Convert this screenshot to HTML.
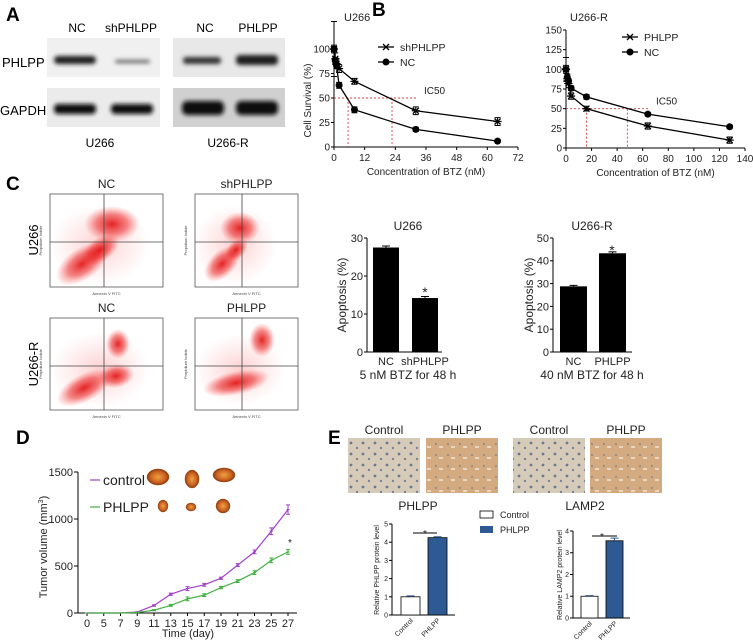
<!DOCTYPE html>
<html><head><meta charset="utf-8"><style>
html,body{margin:0;padding:0;background:#fff;}
svg{display:block;font-family:"Liberation Sans",Arial,sans-serif;}
</style></head><body>
<svg id="fig" width="753" height="643" viewBox="0 0 753 643" xmlns="http://www.w3.org/2000/svg">
<defs>
<filter id="blur1" x="-20%" y="-50%" width="140%" height="200%"><feGaussianBlur stdDeviation="2"/></filter>
<radialGradient id="cloud"><stop offset="0" stop-color="#e00000" stop-opacity="0.85"/><stop offset="0.55" stop-color="#e81010" stop-opacity="0.5"/><stop offset="1" stop-color="#ff4040" stop-opacity="0"/></radialGradient>
<radialGradient id="halo"><stop offset="0" stop-color="#f04040" stop-opacity="0.25"/><stop offset="1" stop-color="#ff6060" stop-opacity="0"/></radialGradient>
<radialGradient id="tumor"><stop offset="0" stop-color="#f0a040"/><stop offset="0.7" stop-color="#c86020"/><stop offset="1" stop-color="#8a3a10"/></radialGradient>
<pattern id="ihcA" width="12" height="11" patternUnits="userSpaceOnUse"><rect width="12" height="11" fill="#d6cbb8"/><circle cx="3" cy="3" r="1.4" fill="#6a7890"/><circle cx="9" cy="8" r="1.2" fill="#7a8498"/></pattern>
<pattern id="ihcB" width="12" height="11" patternUnits="userSpaceOnUse"><rect width="12" height="11" fill="#d4ab80"/><circle cx="4" cy="4" r="1.1" fill="#9a8a8a"/><rect x="7" y="6" width="4" height="2" fill="#e8d6c0"/></pattern>
</defs>
<g id="panelA">
<text x="6" y="21" font-size="19" font-weight="bold">A</text>
<text x="77" y="32" font-size="12" text-anchor="middle">NC</text>
<text x="131" y="32" font-size="12" text-anchor="middle">shPHLPP</text>
<text x="205" y="32" font-size="12" text-anchor="middle">NC</text>
<text x="258" y="32" font-size="12" text-anchor="middle">PHLPP</text>
<text x="2" y="67" font-size="13">PHLPP</text>
<text x="0" y="115" font-size="13">GAPDH</text>
<rect x="47" y="38" width="113" height="39" fill="#f0f0f0"/>
<rect x="47" y="88" width="113" height="39" fill="#ebebeb"/>
<rect x="173" y="38" width="112" height="39" fill="#e8e8e8"/>
<rect x="173" y="88" width="112" height="39" fill="#d0d0d0"/>
<g filter="url(#blur1)">
<rect x="54" y="56" width="42" height="8" rx="4" fill="#1a1a1a"/>
<rect x="115" y="60" width="35" height="3" rx="2" fill="#555"/>
<rect x="54" y="104" width="42" height="10" rx="4" fill="#111"/>
<rect x="111" y="104" width="42" height="10" rx="4" fill="#111"/>
<rect x="183" y="57" width="38" height="7" rx="3" fill="#333"/>
<rect x="236" y="55" width="42" height="10" rx="4" fill="#1a1a1a"/>
<rect x="182" y="101" width="42" height="14" rx="5" fill="#111"/>
<rect x="236" y="101" width="42" height="14" rx="5" fill="#111"/>
</g>
<text x="100" y="147" font-size="12" text-anchor="middle">U266</text>
<text x="228" y="147" font-size="12" text-anchor="middle">U266-R</text>
</g>
<text x="372" y="16" font-size="19" font-weight="bold">B</text>
<text x="6" y="190" font-size="19" font-weight="bold">C</text>
<text x="16" y="444" font-size="19" font-weight="bold">D</text>
<text x="328" y="444" font-size="19" font-weight="bold">E</text>
</svg>
<script>
// ---------- data ----------
const bLeftX=[0,0.5,1,2,8,32,64];
const bLeftSh=[100,90,85,80,67,37,26];
const bLeftShErr=[28,6,5,4,3,4,4];
const bLeftNC=[100,88,83,63,38,18,6];
const bLeftNCErr=[4,3,3,3,3,2,1];
const bLeftXTicks=[0,12,24,36,48,60,72];
const bLeftYTicks=[0,25,50,75,100];
const bLeftIC50=[5.5,22.7];

const bRightX=[0,1,2,4,16,64,128];
const bRightPh=[100,88,82,66,50,28,10];
const bRightPhErr=[15,6,5,4,3,4,4];
const bRightNC=[100,90,85,76,65,43,27];
const bRightNCErr=[5,4,3,3,3,2,2];
const bRightXTicks=[0,20,40,60,80,100,120,140];
const bRightYTicks=[0,25,50,75,100,125,150];
const bRightIC50=[16,48];

const cU266Labels=['NC','shPHLPP'];
const cU266Vals=[27.5,14.2];
const cU266Err=[0.4,0.4];
const cU266Ticks=[0,10,20,30];
const cU266RLabels=['NC','PHLPP'];
const cU266RVals=[28.8,43.3];
const cU266RErr=[0.4,0.6];
const cU266RTicks=[0,10,20,30,40,50];

const dDays=['0','5','7','9','11','13','15','17','19','21','23','25','27'];
const dControl=[0,0,0,10,80,200,260,300,370,510,650,870,1100];
const dControlErr=[0,0,0,5,8,12,20,15,12,15,20,35,50];
const dPhlpp=[0,0,0,5,30,80,150,190,270,340,430,560,650];
const dPhlppErr=[0,0,0,3,6,10,20,15,12,15,20,25,25];
const dYTicks=[0,500,1000,1500];

const eLabels=['Control','PHLPP'];
const ePhlppVals=[1.0,4.25];
const ePhlppErr=[0.05,0.05];
const ePhlppTicks=[0,1,2,3,4,5];
const eLampVals=[1.0,3.55];
const eLampErr=[0.03,0.12];
const eLampTicks=[0,1,2,3,4];

// ---------- helpers ----------
const NS="http://www.w3.org/2000/svg";
const svg=document.getElementById('fig');
function el(tag,attrs,parent){const e=document.createElementNS(NS,tag);for(const k in attrs)e.setAttribute(k,attrs[k]);(parent||svg).appendChild(e);return e;}
function txt(x,y,s,attrs,parent){const t=el('text',Object.assign({x:x,y:y},attrs||{}),parent);t.textContent=s;return t;}
function grp(name){const g=el('g',{});


return g;}

// ---------- panel B line charts ----------
function drawSurvival(name,o){
  const g=grp(name);
  const sx=v=>o.x0+(v-o.xmin)*(o.x1-o.x0)/(o.xmax-o.xmin);
  const sy=v=>o.y0-(v)*(o.y0-o.y1)/o.ymax;
  const ax=el('path',{d:`M${o.x0} ${o.ytop} V${o.y0} H${o.x1}`,stroke:'#000','stroke-width':1,fill:'none'},g);
  
  
  o.yTicks.forEach(t=>{
    el('line',{x1:o.x0-3,x2:o.x0,y1:sy(t),y2:sy(t),stroke:'#000'},g);
    const l=txt(o.x0-4,sy(t)+3.5,String(t),{'font-size':10,'text-anchor':'end',fill:'#222'},g);
    
    
  });
  o.xTicks.forEach(t=>{
    el('line',{x1:sx(t),x2:sx(t),y1:o.y0,y2:o.y0+3,stroke:'#000'},g);
    const l=txt(sx(t),o.y0+14,String(t),{'font-size':10,'text-anchor':'middle',fill:'#222'},g);
    
    
  });
  const h=el('line',{x1:o.x0,x2:o.icEnd,y1:sy(50),y2:sy(50),stroke:'#d04040','stroke-width':0.9,'stroke-dasharray':'2,2'},g);
  
  
  o.ic.forEach(v=>{
    const vl=el('line',{x1:sx(v),x2:sx(v),y1:sy(50),y2:o.y0,stroke:'#d04040','stroke-width':0.9,'stroke-dasharray':'2,2'},g);
    
    
  });
  const icl=txt(o.icLabelX,sy(50)-4,'IC50',{'font-size':10,fill:'#222'},g);
  
  
  o.series.forEach(s=>{
    const p=el('polyline',{points:o.xs.map((v,i)=>sx(v)+','+sy(s.vals[i])).join(' '),fill:'none',stroke:'#000','stroke-width':1.3},g);
    
    
    o.xs.forEach((v,i)=>{
      const X=sx(v),Y=sy(s.vals[i]),e=s.err[i]*(o.y0-o.y1)/o.ymax;
      el('path',{d:`M${X} ${Y-e}V${Y+e}M${X-3} ${Y-e}H${X+3}M${X-3} ${Y+e}H${X+3}`,stroke:'#000','stroke-width':1},g);
      let m;
      if(s.marker==='circle'){m=el('circle',{cx:X,cy:Y,r:3.5,fill:'#000'},g);}
      else{m=el('path',{d:`M${X-3} ${Y-3}L${X+3} ${Y+3}M${X-3} ${Y+3}L${X+3} ${Y-3}M${X-4} ${Y}H${X+4}`,stroke:'#000','stroke-width':1.3},g);}
      
      
    });
    const ly=s.legY;
    el('line',{x1:o.legX-8,x2:o.legX+8,y1:ly,y2:ly,stroke:'#000','stroke-width':1.3},g);
    if(s.marker==='circle')el('circle',{cx:o.legX,cy:ly,r:3.5,fill:'#000'},g);
    else el('path',{d:`M${o.legX-3} ${ly-3}L${o.legX+3} ${ly+3}M${o.legX-3} ${ly+3}L${o.legX+3} ${ly-3}`,stroke:'#000','stroke-width':1.3},g);
    const lt=txt(o.legX+14,ly+4,s.label,{'font-size':10.5,fill:'#222'},g);
    
    
  });
  const t=txt(o.titleX,21,o.title,{'font-size':11,fill:'#222'},g);
  
  
  const xt=txt((o.x0+o.x1)/2,o.y0+28,'Concentration of BTZ (nM)',{'font-size':10,'text-anchor':'middle',fill:'#222'},g);
  
  
  if(o.ylabel){
    const yt=txt(0,0,o.ylabel,{'font-size':10,'text-anchor':'middle',fill:'#222',transform:`translate(${o.x0-23},${(o.y0+o.ytop)/2+15}) rotate(-90)`},g);
    
    
  }
}
drawSurvival('chart-b-u266',{x0:334,x1:518,xmin:0,xmax:72,y0:147,y1:49,ymax:100,ytop:24,xs:bLeftX,xTicks:bLeftXTicks,yTicks:bLeftYTicks,ic:bLeftIC50,icEnd:416,icLabelX:424,legX:386,title:'U266',titleX:344,ylabel:'Cell Survival (%)',
 series:[{name:'shphlpp',label:'shPHLPP',vals:bLeftSh,err:bLeftShErr,marker:'x',legY:47},{name:'nc',label:'NC',vals:bLeftNC,err:bLeftNCErr,marker:'circle',legY:62}]});
drawSurvival('chart-b-u266r',{x0:566,x1:745,xmin:0,xmax:140,y0:148,y1:30,ymax:150,ytop:30,xs:bRightX,xTicks:bRightXTicks,yTicks:bRightYTicks,ic:bRightIC50,icEnd:650,icLabelX:656,legX:630,title:'U266-R',titleX:570,ylabel:null,
 series:[{name:'phlpp',label:'PHLPP',vals:bRightPh,err:bRightPhErr,marker:'x',legY:37},{name:'nc',label:'NC',vals:bRightNC,err:bRightNCErr,marker:'circle',legY:52}]});

// ---------- panel C flow plots ----------
const flowBoxes=[
 {name:'flow-u266-nc',x:50,y:194,w:113,h:93,qx:104,qy:242,title:'NC',halo:[100,245,50,40],clouds:[[82,264,30,16,-35],[112,224,28,18,0],[100,250,22,12,-35]]},
 {name:'flow-u266-shphlpp',x:195,y:194,w:103,h:93,qx:242,qy:242,title:'shPHLPP',halo:[235,245,42,40],clouds:[[222,264,22,13,-45],[240,228,20,16,0],[236,250,14,9,-45]]},
 {name:'flow-u266r-nc',x:50,y:318,w:113,h:92,qx:104,qy:366,title:'NC',halo:[100,370,50,38],clouds:[[84,388,30,14,-28],[118,344,12,15,0],[116,376,18,12,-10]]},
 {name:'flow-u266r-phlpp',x:195,y:318,w:103,h:92,qx:242,qy:366,title:'PHLPP',halo:[240,370,45,36],clouds:[[236,383,34,12,-12],[262,340,13,17,0]]}
];
flowBoxes.forEach(b=>{
  const g=grp(b.name);
  const r=el('rect',{x:b.x,y:b.y,width:b.w,height:b.h,fill:'#fff',stroke:'#555','stroke-width':0.8},g);
  
  
  const hl=el('ellipse',{cx:b.halo[0],cy:b.halo[1],rx:b.halo[2],ry:b.halo[3],fill:'url(#halo)'},g);
  
  
  b.clouds.forEach(c=>{
    const e=el('ellipse',{cx:0,cy:0,rx:c[2],ry:c[3],fill:'url(#cloud)',transform:`translate(${c[0]},${c[1]}) rotate(${c[4]})`},g);
    
    
  });
  el('line',{x1:b.qx,x2:b.qx,y1:b.y,y2:b.y+b.h,stroke:'#444','stroke-width':0.8},g);
  el('line',{x1:b.x,x2:b.x+b.w,y1:b.qy,y2:b.qy,stroke:'#444','stroke-width':0.8},g);
  const t=txt(b.x+b.w/2,b.y-6,b.title,{'font-size':12,'text-anchor':'middle',fill:'#222'},g);
  
  
  const xl=txt(b.x+b.w/2,b.y+b.h+8,'Annexin V FITC',{'font-size':4,'text-anchor':'middle',fill:'#444'},g);
  
  
  const yl=txt(0,0,'Propidium Iodide',{'font-size':4,'text-anchor':'middle',fill:'#444',transform:`translate(${b.x-8},${b.y+b.h/2}) rotate(-90)`},g);
  
  
});
const rl1=txt(0,0,'U266',{'font-size':13,'text-anchor':'middle',transform:'translate(38,240) rotate(-90)'});


const rl2=txt(0,0,'U266-R',{'font-size':13,'text-anchor':'middle',transform:'translate(38,364) rotate(-90)'});



// ---------- bar charts ----------
function drawBars(name,o){
  const g=grp(name);
  const sy=v=>o.y0-v*(o.y0-o.y1)/o.ymax;
  el('path',{d:`M${o.x0} ${o.y1} V${o.y0} H${o.xEnd}`,stroke:'#000','stroke-width':1,fill:'none'},g);
  o.ticks.forEach(t=>{
    el('line',{x1:o.x0-3,x2:o.x0,y1:sy(t),y2:sy(t),stroke:'#000'},g);
    const l=txt(o.x0-4,sy(t)+o.fs*0.35,String(t),{'font-size':o.fs,'text-anchor':'end',fill:'#222'},g);
    
    
  });
  o.vals.forEach((v,i)=>{
    const bx=o.bx[i];
    const r=el('rect',{x:bx,y:sy(v),width:o.bw,height:o.y0-sy(v),fill:o.fills[i],stroke:'#000','stroke-width':o.sw},g);
    
    
    const cx=bx+o.bw/2,ey=sy(v+o.err[i]);
    el('path',{d:`M${cx} ${sy(v)}V${ey}M${cx-4} ${ey}H${cx+4}`,stroke:o.errColor||'#000','stroke-width':1},g);
    let l;
    if(o.rot){l=txt(0,0,o.labels[i],{'font-size':o.fs,'text-anchor':'end',fill:'#222',transform:`translate(${cx+3},${o.y0+6}) rotate(-45)`},g);}
    else{l=txt(cx,o.y0+13,o.labels[i],{'font-size':o.fs,'text-anchor':'middle',fill:'#222'},g);}
    
    
  });
  if(o.star){
    const st=txt(o.star[0],o.star[1],'*',{'font-size':o.starFs||14,'text-anchor':'middle',fill:'#222'},g);
    
    
  }
  if(o.sig){
    const sl=el('line',{x1:o.sig[0],x2:o.sig[1],y1:o.sig[2],y2:o.sig[2],stroke:'#000','stroke-width':1},g);
    
    
  }
  const t=txt(o.titleX,o.titleY,o.title,{'font-size':o.tfs,'text-anchor':'middle',fill:'#222'},g);
  
  
  const yt=txt(0,0,o.ylabel,{'font-size':o.yfs,'text-anchor':'middle',fill:'#222',transform:`translate(${o.ylx},${o.yly}) rotate(-90)`},g);
  
  
  if(o.caption){
    const c=txt(o.titleX,o.y0+27,o.caption,{'font-size':12,'text-anchor':'middle',fill:'#222'},g);
    
    
  }
}
drawBars('chart-c-u266',{x0:367,xEnd:442,y0:352,y1:238,ymax:30,ticks:cU266Ticks,vals:cU266Vals,err:cU266Err,labels:cU266Labels,bx:[373,412],bw:26,fills:['#000','#000'],sw:0,fs:11,star:[425,297],title:'U266',titleX:408,titleY:230,tfs:12,ylabel:'Apoptosis (%)',yfs:12,ylx:346,yly:295,caption:'5 nM BTZ for 48 h'});
drawBars('chart-c-u266r',{x0:553,xEnd:632,y0:352,y1:238,ymax:50,ticks:cU266RTicks,vals:cU266RVals,err:cU266RErr,labels:cU266RLabels,bx:[560,599],bw:27,fills:['#000','#000'],sw:0,fs:11,star:[612,255],title:'U266-R',titleX:592,titleY:230,tfs:12,ylabel:'Apoptosis (%)',yfs:12,ylx:533,yly:295,caption:'40 nM BTZ for 48 h'});
drawBars('chart-e-phlpp',{x0:392,xEnd:455,y0:615,y1:524,ymax:5,ticks:ePhlppTicks,vals:ePhlppVals,err:ePhlppErr,labels:eLabels,bx:[401,428],bw:19,fills:['#fff','#2e5a93'],sw:0.8,fs:7,rot:true,star:[425,537],starFs:10,sig:[413,437,533],title:'PHLPP',titleX:418,titleY:510,tfs:12,ylabel:'Relative PHLPP protein level',yfs:7,ylx:379,yly:570,errColor:'#2e5a93'});
drawBars('chart-e-lamp2',{x0:573,xEnd:630,y0:618,y1:531,ymax:4,ticks:eLampTicks,vals:eLampVals,err:eLampErr,labels:eLabels,bx:[581,606],bw:17,fills:['#fff','#2e5a93'],sw:0.8,fs:7,rot:true,star:[602,540],starFs:10,sig:[592,617,536],title:'LAMP2',titleX:585,titleY:510,tfs:12,ylabel:'Relative LAMP2 protein level',yfs:7,ylx:562,yly:575,errColor:'#2e5a93'});

(function(){
  const g=grp('legend-e');
  const r1=el('rect',{x:480,y:511,width:13,height:7,fill:'#fff',stroke:'#000','stroke-width':0.8},g);
  
  
  const t1=txt(500,518,'Control',{'font-size':9,fill:'#222'},g);
  
  
  const r2=el('rect',{x:480,y:526,width:13,height:7,fill:'#2e5a93'},g);
  
  
  const t2=txt(500,533,'PHLPP',{'font-size':9,fill:'#222'},g);
  
  
})();

[[348,'url(#ihcA)','Control'],[426,'url(#ihcB)','PHLPP'],[513,'url(#ihcA)','Control'],[590,'url(#ihcB)','PHLPP']].forEach((d,i)=>{
  const r=el('rect',{x:d[0],y:438,width:72,height:55,fill:d[1]});
  
  
  const t=txt(d[0]+36,434,d[2],{'font-size':12,'text-anchor':'middle',fill:'#222'});
  
  
});

// ---------- panel D line chart ----------
(function(){
  const g=grp('chart-d-tumor-volume');
  const x0=78,xEnd=297,y0=613,y1=472,ymax=1500;
  const sx=i=>87+i*(288-87)/(dDays.length-1);
  const sy=v=>y0-v*(y0-y1)/ymax;
  el('path',{d:`M${x0} ${y1} V${y0} H${xEnd}`,stroke:'#000','stroke-width':1,fill:'none'},g);
  dYTicks.forEach(t=>{
    el('line',{x1:x0-4,x2:x0,y1:sy(t),y2:sy(t),stroke:'#000'},g);
    const l=txt(x0-5,sy(t)+4,String(t),{'font-size':11,'text-anchor':'end',fill:'#222'},g);
    
    
  });
  dDays.forEach((d,i)=>{
    el('line',{x1:sx(i),x2:sx(i),y1:y0,y2:y0+3,stroke:'#000'},g);
    const l=txt(sx(i),y0+14,d,{'font-size':11,'text-anchor':'middle',fill:'#222'},g);
    
    
  });
  [['control',dControl,dControlErr,'#a040c8'],['phlpp',dPhlpp,dPhlppErr,'#40b040']].forEach(s=>{
    const p=el('polyline',{points:s[1].map((v,i)=>sx(i)+','+sy(v)).join(' '),fill:'none',stroke:s[3],'stroke-width':1.2},g);
    
    
    s[1].forEach((v,i)=>{
      const X=sx(i),Y=sy(v),e=s[2][i]*(y0-y1)/ymax;
      const m=el('path',{d:`M${X} ${Y-e}V${Y+e}M${X-2} ${Y-e}H${X+2}M${X-2} ${Y+e}H${X+2}M${X-1.5} ${Y}H${X+1.5}`,stroke:s[3],'stroke-width':1},g);
      
      
    });
  });
  const st=txt(290,546,'*',{'font-size':10,'text-anchor':'middle',fill:'#222'},g);
  
  
  el('line',{x1:90,x2:100,y1:480,y2:480,stroke:'#a040c8','stroke-width':1.2},g);
  const l1=txt(103,485,'control',{'font-size':14,fill:'#222'},g);
  
  
  el('line',{x1:90,x2:100,y1:507,y2:507,stroke:'#40b040','stroke-width':1.2},g);
  const l2=txt(103,512,'PHLPP',{'font-size':14,fill:'#222'},g);
  
  
  [[158,477,11,8],[192,479,7,9],[224,475,11,7],[163,506,5,6],[191,507,5,4],[223,506,7,7]].forEach(b=>{
    const e=el('ellipse',{cx:b[0],cy:b[1],rx:b[2],ry:b[3],fill:'url(#tumor)',stroke:'#a04a18','stroke-width':0.5},g);
    
    
  });
  const xt=txt(188,637,'Time (day)',{'font-size':11,'text-anchor':'middle',fill:'#222'},g);
  
  
  const yt=el('text',{'font-size':11,'text-anchor':'middle',fill:'#222',transform:'translate(47,547) rotate(-90)'},g);
  yt.innerHTML='Tumor volume (mm<tspan dy="-4" font-size="7">3</tspan><tspan dy="4">)</tspan>';
  
  
})();
</script>
</body></html>
